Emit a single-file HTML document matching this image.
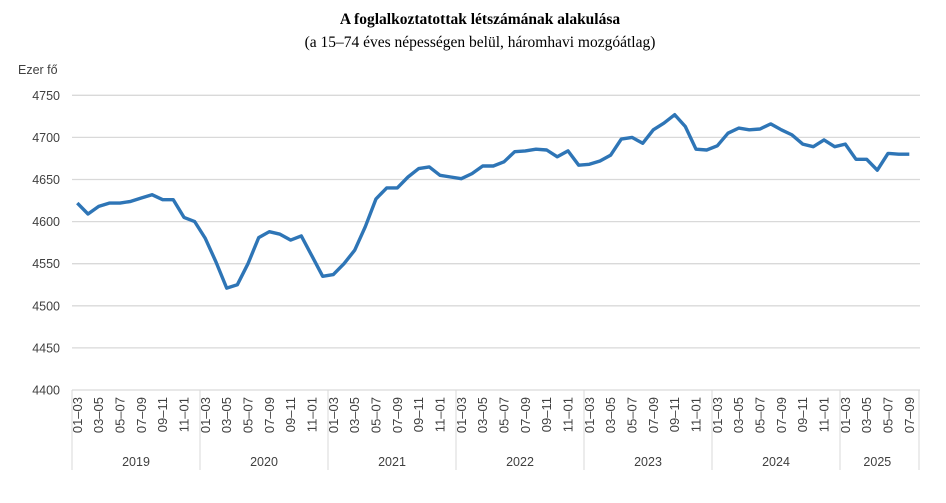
<!DOCTYPE html>
<html><head><meta charset="utf-8"><style>
body{margin:0;background:#fff;width:946px;height:503px;overflow:hidden}
svg{display:block}
</style></head><body>
<svg id="s" width="946" height="503" xmlns="http://www.w3.org/2000/svg">
<text x="480" y="24" text-anchor="middle" font-family="Liberation Serif, serif" font-size="15.5" font-weight="bold">A foglalkoztatottak létszámának alakulása</text>
<text x="480" y="47" text-anchor="middle" font-family="Liberation Serif, serif" font-size="15.5">(a 15–74 éves népességen belül, háromhavi mozgóátlag)</text>
<text x="18" y="74" font-family="Liberation Sans, sans-serif" font-size="12.5" fill="#404040">Ezer fő</text>
<g id="g"></g>
</svg>
<script>
var v=[4622,4609,4618,4622,4622,4624,4628,4632,4626,4626,4605,4600,4580,4552,4521,4525,4550,4581,4588,4585,4578,4583,4559,4535,4537,4550,4566,4594,4627,4640,4640,4653,4663,4665,4655,4653,4651,4657,4666,4666,4671,4683,4684,4686,4685,4677,4684,4667,4668,4672,4679,4698,4700,4693,4709,4717,4727,4713,4686,4685,4690,4705,4711,4709,4710,4716,4709,4703,4692,4689,4697,4689,4692,4674,4674,4661,4681,4680,4680];
var x0=72,dx=128/12,g=document.getElementById('g'),h='';
function Y(val){return 390-(val-4400)*(294.7/350);}
for(var k=0;k<=7;k++){var val=4400+50*k,y=Y(val);
h+='<line x1="72" x2="920" y1="'+y+'" y2="'+y+'" stroke="#d9d9d9" stroke-width="1.3"/>';
h+='<text x="60" y="'+(y+4.5)+'" text-anchor="end" font-family="Liberation Sans, sans-serif" font-size="12.5" fill="#404040">'+val+'</text>';}
var yrs=['2019','2020','2021','2022','2023','2024','2025'];
var labs=['01–03','03–05','05–07','07–09','09–11','11–01'];
for(var i=0;i<7;i++){var xs=x0+i*128;
h+='<line x1="'+xs+'" x2="'+xs+'" y1="390" y2="470" stroke="#d9d9d9" stroke-width="1"/>';
var n=i<6?12:7;h+='<text x="'+(xs+n*dx/2)+'" y="466" text-anchor="middle" font-family="Liberation Sans, sans-serif" font-size="12.5" fill="#404040">'+yrs[i]+'</text>';
for(var j=0;j<(i<6?6:4);j++){var cx=xs+(2*j+0.5)*dx+4.5;
h+='<text transform="translate('+cx+',397) rotate(-90)" text-anchor="end" font-family="Liberation Sans, sans-serif" font-size="13" fill="#404040">'+labs[j]+'</text>';}}
h+='<line x1="919" x2="919" y1="390" y2="470" stroke="#d9d9d9" stroke-width="1"/>';
var p=v.map(function(a,i){return (x0+(i+0.5)*dx).toFixed(1)+','+Y(a).toFixed(1)}).join(' ');
h+='<polyline points="'+p+'" fill="none" stroke="#2e75b6" stroke-width="3.4" stroke-linejoin="round"/>';
g.innerHTML=h;
</script>
</body></html>
